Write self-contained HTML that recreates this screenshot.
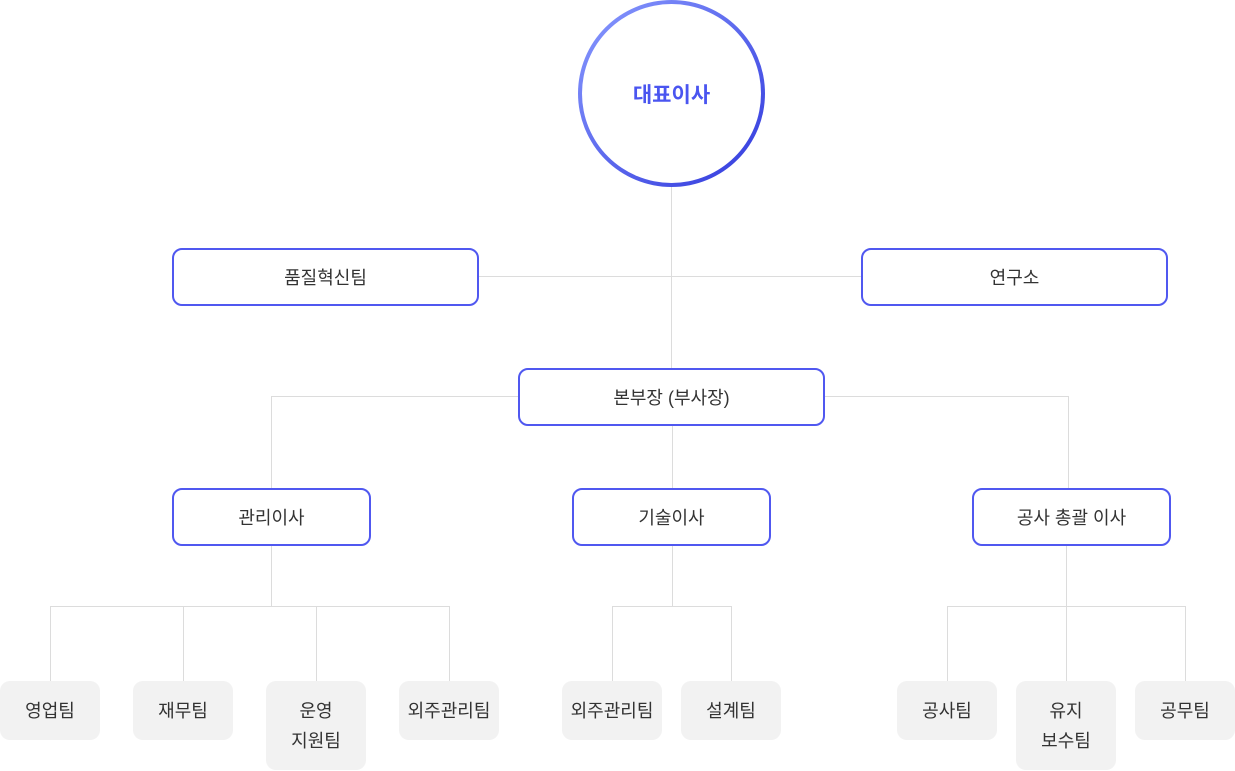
<!DOCTYPE html>
<html><head><meta charset="utf-8"><style>
body{margin:0;width:1235px;height:771px;background:#fff;position:relative;overflow:hidden;font-family:"Liberation Sans","Noto Sans CJK KR",sans-serif;}
.l{position:absolute;background:#dcdcdc;}
.b{position:absolute;box-sizing:border-box;border:2px solid #5058f0;border-radius:10px;background:#fff;display:flex;align-items:center;justify-content:center;font-size:18px;color:#333;height:58px;}
.g{position:absolute;box-sizing:border-box;background:#f2f2f2;border-radius:10px;display:flex;align-items:center;justify-content:center;text-align:center;font-size:18px;color:#333;width:100px;height:59px;line-height:30px;top:681px;}
.t{height:89px;}
.c{position:absolute;left:578px;top:0;width:187px;height:187px;border-radius:50%;background:linear-gradient(135deg,#8a9bff,#3038dc);}
.ci{position:absolute;left:4px;top:4px;right:4px;bottom:4px;border-radius:50%;background:#fff;display:flex;align-items:center;justify-content:center;font-size:21px;font-weight:bold;color:#4a55f0;}
</style></head><body>
<div class="l" style="left:671px;top:186px;width:1px;height:182px"></div>
<div class="l" style="left:478px;top:276px;width:383px;height:1px"></div>
<div class="l" style="left:271px;top:396px;width:247px;height:1px"></div>
<div class="l" style="left:824px;top:396px;width:245px;height:1px"></div>
<div class="l" style="left:271px;top:396px;width:1px;height:92px"></div>
<div class="l" style="left:1068px;top:396px;width:1px;height:92px"></div>
<div class="l" style="left:672px;top:426px;width:1px;height:62px"></div>
<div class="l" style="left:271px;top:546px;width:1px;height:60px"></div>
<div class="l" style="left:50px;top:606px;width:400px;height:1px"></div>
<div class="l" style="left:50px;top:606px;width:1px;height:75px"></div>
<div class="l" style="left:183px;top:606px;width:1px;height:75px"></div>
<div class="l" style="left:316px;top:606px;width:1px;height:75px"></div>
<div class="l" style="left:449px;top:606px;width:1px;height:75px"></div>
<div class="l" style="left:672px;top:546px;width:1px;height:60px"></div>
<div class="l" style="left:612px;top:606px;width:120px;height:1px"></div>
<div class="l" style="left:612px;top:606px;width:1px;height:75px"></div>
<div class="l" style="left:731px;top:606px;width:1px;height:75px"></div>
<div class="l" style="left:1066px;top:546px;width:1px;height:60px"></div>
<div class="l" style="left:947px;top:606px;width:239px;height:1px"></div>
<div class="l" style="left:947px;top:606px;width:1px;height:75px"></div>
<div class="l" style="left:1066px;top:606px;width:1px;height:75px"></div>
<div class="l" style="left:1185px;top:606px;width:1px;height:75px"></div>

<div class="c"><div class="ci">대표이사</div></div>
<div class="b" style="left:172px;top:248px;width:307px">품질혁신팀</div>
<div class="b" style="left:861px;top:248px;width:307px">연구소</div>
<div class="b" style="left:518px;top:368px;width:307px">본부장 (부사장)</div>
<div class="b" style="left:172px;top:488px;width:199px">관리이사</div>
<div class="b" style="left:572px;top:488px;width:199px">기술이사</div>
<div class="b" style="left:972px;top:488px;width:199px">공사 총괄 이사</div>

<div class="g" style="left:0px">영업팀</div>
<div class="g" style="left:133px">재무팀</div>
<div class="g t" style="left:266px">운영<br>지원팀</div>
<div class="g" style="left:399px">외주관리팀</div>
<div class="g" style="left:562px">외주관리팀</div>
<div class="g" style="left:681px">설계팀</div>
<div class="g" style="left:897px">공사팀</div>
<div class="g t" style="left:1016px">유지<br>보수팀</div>
<div class="g" style="left:1135px">공무팀</div>
</body></html>
